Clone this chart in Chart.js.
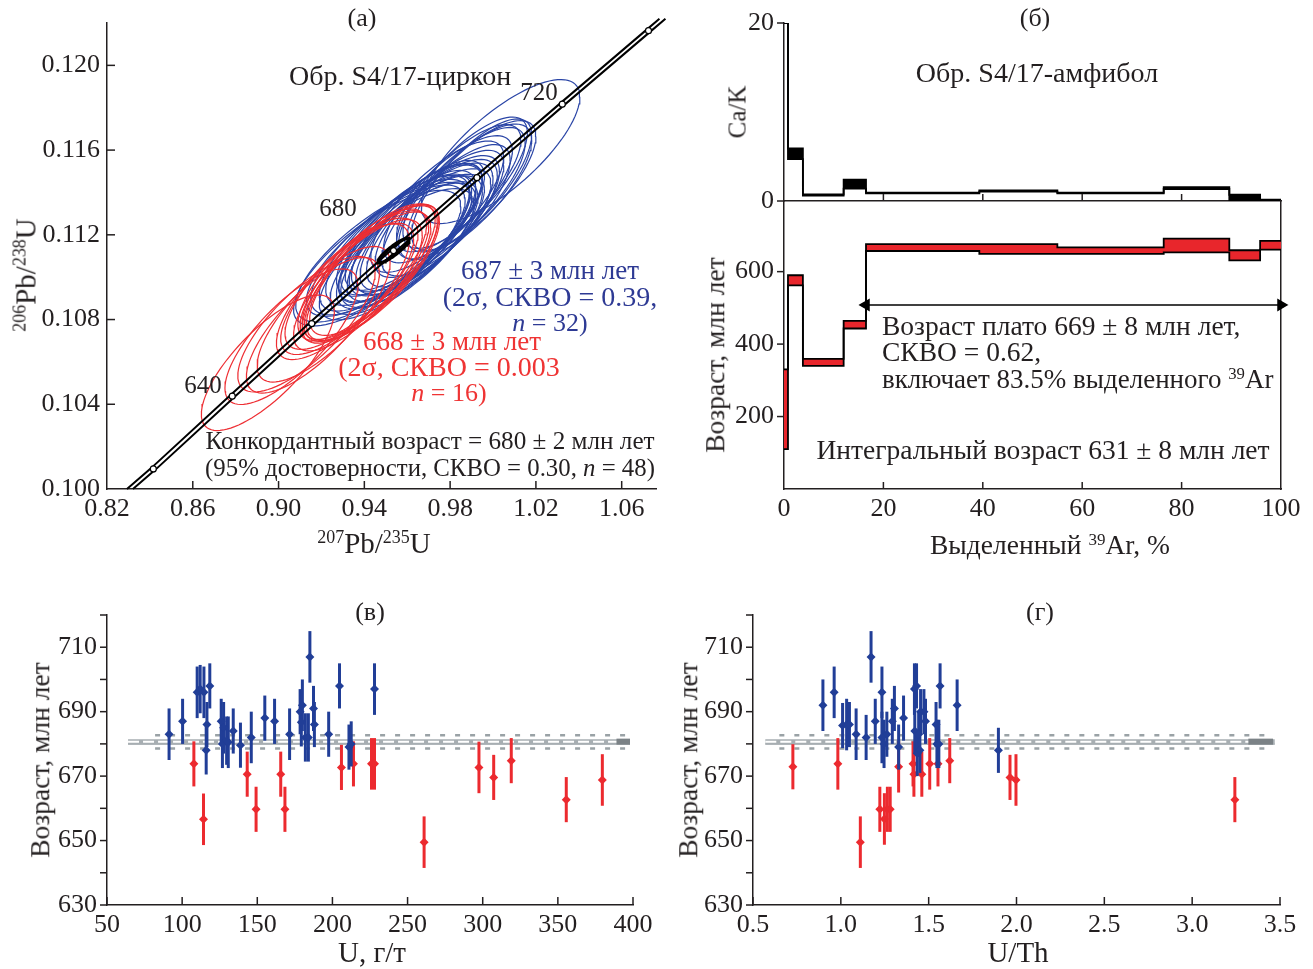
<!DOCTYPE html>
<html>
<head>
<meta charset="utf-8">
<script src="https://cdn.jsdelivr.net/npm/chart.js@4.4.1/dist/chart.umd.min.js"></script>
<style>
body { margin: 0; background: #fff; width: 1313px; height: 969px; position: relative; overflow: hidden; font-family: 'Liberation Serif', serif; }
canvas { position: absolute; }
.t { position: absolute; font-size: 27.5px; line-height: 1; white-space: nowrap; color: #231f20; transform: translate(-50%, -50%); }
.t.l { transform: translate(0, -50%); }
.t.v { transform: translate(-50%, -50%) rotate(-90deg); }
sup { font-size: 0.62em; position: relative; top: -0.55em; vertical-align: baseline; }
.b { color: #2e3a94; }
.r { color: #ef3434; }
</style>
</head>
<body>
<canvas id="cA" width="680" height="539" style="left:0;top:0"></canvas>
<canvas id="cCa" width="613" height="215" style="left:700px;top:0"></canvas>
<canvas id="cAge" width="613" height="375" style="left:700px;top:190px"></canvas>
<canvas id="cB" width="660" height="379" style="left:0;top:590px"></canvas>
<canvas id="cG" width="653" height="379" style="left:660px;top:590px"></canvas>

<!-- (а) -->
<div class="t" style="left:362px;top:18px;font-size:26px">(а)</div>
<div class="t l" style="left:289px;top:76px;font-size:28px">Обр. S4/17-циркон</div>
<div class="t" style="left:539px;top:91px;font-size:25px">720</div>
<div class="t" style="left:338px;top:207px;font-size:25px">680</div>
<div class="t" style="left:203px;top:384px;font-size:25px">640</div>
<div class="t b" style="left:550px;top:270px;font-size:27px">687 ± 3 млн лет</div>
<div class="t b" style="left:550px;top:297px;font-size:28px">(2σ, СКВО = 0.39,</div>
<div class="t b" style="left:550px;top:323px;font-size:26px"><i>n</i> = 32)</div>
<div class="t r" style="left:452px;top:341px;font-size:27px">668 ± 3 млн лет</div>
<div class="t r" style="left:449px;top:367px;font-size:28px">(2σ, СКВО = 0.003</div>
<div class="t r" style="left:449px;top:393px;font-size:26px"><i>n</i> = 16)</div>
<div class="t" style="left:430px;top:441px;font-size:25.2px">Конкордантный возраст = 680 ± 2 млн лет</div>
<div class="t" style="left:430px;top:468px;font-size:24.8px">(95% достоверности, СКВО = 0.30, <i>n</i> = 48)</div>
<div class="t" style="left:374px;top:543px;font-size:29px"><sup>207</sup>Pb/<sup>235</sup>U</div>
<div class="t v" style="left:26px;top:275px;font-size:29px"><sup>206</sup>Pb/<sup>238</sup>U</div>

<!-- (б) -->
<div class="t" style="left:1035px;top:18px;font-size:26px">(б)</div>
<div class="t" style="left:1037px;top:73px;font-size:28px">Обр. S4/17-амфибол</div>
<div class="t v" style="left:737px;top:112px;font-size:25px">Ca/K</div>
<div class="t v" style="left:715px;top:355px">Возраст, млн лет</div>
<div class="t l" style="left:882px;top:326px">Возраст плато 669 ± 8 млн лет,</div>
<div class="t l" style="left:882px;top:352px">СКВО = 0.62,</div>
<div class="t l" style="left:882px;top:379px;font-size:27px">включает 83.5% выделенного <sup>39</sup>Ar</div>
<div class="t" style="left:1043px;top:450px">Интегральный возраст 631 ± 8 млн лет</div>
<div class="t" style="left:1050px;top:545px">Выделенный <sup>39</sup>Ar, %</div>

<!-- (в) -->
<div class="t" style="left:370px;top:612px;font-size:26px">(в)</div>
<div class="t v" style="left:40px;top:760px">Возраст, млн лет</div>
<div class="t" style="left:372px;top:952px;font-size:29px">U, г/т</div>

<!-- (г) -->
<div class="t" style="left:1040px;top:612px;font-size:26px">(г)</div>
<div class="t v" style="left:688px;top:760px">Возраст, млн лет</div>
<div class="t" style="left:1018px;top:952px;font-size:29px">U/Th</div>

<script>
// ---- panel (а): concordia diagram ----
const aTicksX = [0.82, 0.86, 0.90, 0.94, 0.98, 1.02, 1.06];
const aTicksY = [0.100, 0.104, 0.108, 0.112, 0.116, 0.120];
const concX = [0.8307, 0.8416, 0.8784, 0.9155, 0.9536, 0.9925, 1.0323, 1.0725, 1.0790];
const concY = [0.1000, 0.10095, 0.10438, 0.10781, 0.11125, 0.11470, 0.11817, 0.12164, 0.1222];
const markX = [0.8416, 0.8784, 0.9155, 0.9536, 0.9925, 1.0323, 1.0725];   // 620..740 Ma
const markY = [0.10095, 0.10438, 0.10781, 0.11125, 0.11470, 0.11817, 0.12164];

const blueX = [0.9600, 0.9650, 0.9850, 0.9840, 0.9870, 0.9620, 0.9460, 0.9900, 0.9790, 0.9700, 0.9500, 0.9660, 0.9540, 0.9580, 0.9600, 0.9490,
               0.9600, 0.9720, 0.9630, 0.9560, 0.9750, 0.9680, 0.9740, 0.9620, 0.9520, 1.0035, 0.9780, 0.9610, 0.9640, 0.9870, 0.9550, 0.9900];
const blueY = [0.11179, 0.11241, 0.11397, 0.11420, 0.11403, 0.11226, 0.11090, 0.11437, 0.11368, 0.11246, 0.11125, 0.11212, 0.11160, 0.11134, 0.11194, 0.11118,
               0.11151, 0.11264, 0.11238, 0.11177, 0.11299, 0.11229, 0.11333, 0.11168, 0.11142, 0.11593, 0.11316, 0.11220, 0.11186, 0.11446, 0.11108, 0.11429];
const blueSx = [0.032, 0.031, 0.030, 0.029, 0.031, 0.033, 0.039, 0.028, 0.030, 0.032, 0.037, 0.033, 0.035, 0.034, 0.032, 0.041,
                0.033, 0.031, 0.032, 0.034, 0.030, 0.032, 0.031, 0.033, 0.037, 0.037, 0.030, 0.034, 0.032, 0.029, 0.036, 0.030];
const blueSy = [0.0030, 0.0031, 0.0031, 0.0030, 0.0032, 0.0031, 0.0032, 0.0031, 0.0030, 0.0031, 0.0031, 0.0030, 0.0032, 0.0031, 0.0031, 0.0033,
                0.0030, 0.0031, 0.0030, 0.0031, 0.0030, 0.0031, 0.0031, 0.0031, 0.0032, 0.0034, 0.0031, 0.0031, 0.0030, 0.0031, 0.0031, 0.0031];
const redX = [0.9430, 0.9060, 0.9370, 0.9160, 0.9340, 0.9130, 0.9410, 0.9440, 0.9390, 0.9420, 0.8950, 0.9400, 0.9320, 0.9445, 0.9210, 0.9300];
const redY = [0.11017, 0.10719, 0.10962, 0.10773, 0.10969, 0.10778, 0.10998, 0.11021, 0.11012, 0.11026, 0.10596, 0.11004, 0.10945, 0.11035, 0.10825, 0.10931];
const redSx = [0.031, 0.031, 0.030, 0.031, 0.031, 0.032, 0.030, 0.031, 0.030, 0.031, 0.031, 0.030, 0.031, 0.030, 0.031, 0.031];
const redSy = [0.0032, 0.0032, 0.0031, 0.0032, 0.0031, 0.0032, 0.0031, 0.0032, 0.0031, 0.0032, 0.0032, 0.0031, 0.0031, 0.0031, 0.0032, 0.0032];
const ellRho = 0.76;
const blackEll = [0.9536, 0.11125, 0.0072, 0.00058, 0.9];

// ---- panel (б): step heating ----
const stepEdges = [0, 0.8, 3.8, 12, 16.5, 39.3, 55, 76.4, 89.6, 95.8, 100];
const caLo = [20, 4.7, 0.62, 1.4, 0.85, 1.05, 0.85, 1.35, 0.05, 0.02];
const caHi = [20, 5.9, 0.75, 2.4, 0.95, 1.2, 0.95, 1.55, 0.7, 0.15];
const ageLo = [110, 562, 340, 443, 657, 649, 649, 653, 631, 661];
const ageHi = [330, 590, 359, 464, 676, 676, 667, 691, 659, 685];
const plateauX = [16.5, 100];
const plateauAge = 508;
const arTicks = [0, 20, 40, 60, 80, 100];
const ageTicks = [200, 400, 600];
const caTicks = [0, 20];

// ---- panels (в), (г): ages vs U and U/Th ----
const blueU = [91.3, 100.3, 110, 112, 114.5, 116.5, 116, 118.4, 126, 126.8, 127.6, 129.6, 130.7, 134, 138.8, 146,
               155, 161.5, 171.5, 178.5, 179.3, 180, 182, 184, 185, 187.4, 188, 197.5, 204.7, 211, 212.5, 228];
const blueAgeU = [683, 687, 696, 697, 696, 686, 678, 698, 687, 680, 685, 681, 680.5, 684, 679.6, 682,
                  688, 687, 683, 690, 686.7, 692, 682, 682, 707, 691, 686, 683, 698, 679, 680, 697];
const blueErrU = [8, 7, 8, 7.5, 8, 7, 7.5, 7, 7, 7.5, 8, 7.5, 8, 7, 7, 8,
                  7, 7, 8, 7, 7.5, 8, 7.5, 7.5, 8, 7, 7, 7, 7, 7, 7, 8];
const redU = [107.8, 114.2, 143.3, 149.2, 165.6, 168.4, 206, 214, 226, 228, 261, 297.5, 307.3, 319, 355.6, 379.6];
const redAgeU = [673.8, 656.6, 670.6, 659.7, 670.6, 659.7, 672.7, 673.8, 673.8, 673.8, 649.5, 672.7, 669.6, 674.8, 662.7, 668.8];
const redErrU = [7, 8, 7, 7, 7, 7, 7, 7, 8, 8, 8, 8, 7, 7, 7, 8];

const blueUTh = [0.898, 0.962, 1.01, 1.033, 1.049, 1.087, 1.144, 1.172, 1.196, 1.234, 1.234, 1.246, 1.262, 1.293, 1.305, 1.329,
                 1.357, 1.419, 1.421, 1.431, 1.435, 1.443, 1.45, 1.454, 1.473, 1.482, 1.542, 1.547, 1.558, 1.565, 1.662, 1.897];
const blueAgeTh = [692, 696, 685.7, 686, 686, 683, 682, 707, 687, 696, 682, 680, 683, 687, 691, 679,
                   688, 697, 684, 698, 677, 683, 678, 690, 690, 687, 686, 680, 680, 698, 692, 678];
const blueErrTh = [8, 8, 7, 8, 7, 8, 7, 8, 7, 8, 8, 7.5, 7, 7, 7, 7,
                   7, 8, 7, 7, 7, 7, 7, 7, 7, 7, 7, 7.5, 7.5, 7, 8, 7];
const redUTh = [0.727, 0.983, 1.111, 1.222, 1.248, 1.265, 1.281, 1.329, 1.411, 1.416, 1.461, 1.506, 1.553, 1.620, 1.963, 1.997, 3.243];
const redAgeTh = [672.9, 673.8, 649.5, 659.7, 656.7, 659.7, 659.7, 672.9, 673.8, 670.6, 670.6, 673.8, 673.8, 674.8, 669.6, 668.8, 662.7];
const redErrTh = [7, 8, 8, 7, 8, 7, 7, 8, 7, 7, 7, 8, 7, 7, 7, 8, 7];

const refAge = 680.7;           // concordant age band
const bandU = [64, 398];
const bandDashU = [82, 395];
const bandEndU = [389, 398];
const bandUTh = [0.57, 3.47];
const bandDashUTh = [0.65, 3.42];
const bandEndUTh = [3.32, 3.46];
const uTicks = [50, 100, 150, 200, 250, 300, 350, 400];
const uthTicks = [0.5, 1.0, 1.5, 2.0, 2.5, 3.0, 3.5];
const ageTicksBG = [630, 640, 650, 660, 670, 680, 690, 700, 710, 720];

const BLUE = '#213e97', RED = '#ec2a2f', INK = '#231f20';

Chart.defaults.font.family = "'Liberation Serif', serif";
Chart.defaults.font.size = 26;
Chart.defaults.color = INK;
Chart.defaults.animation = false;
Chart.defaults.events = [];
Chart.defaults.plugins.legend.display = false;
Chart.defaults.plugins.tooltip.enabled = false;

// short tick marks, inward or outward
const tickMarks = {
  id: 'tickMarks',
  afterDraw(chart, args, opts) {
    if (!opts.list) return;
    const { ctx, chartArea: a } = chart;
    ctx.save();
    ctx.strokeStyle = INK;
    ctx.lineWidth = 1.5;
    opts.list.forEach(t => {
      const s = chart.scales[t.id];
      s.ticks.forEach(tk => {
        if (t.skip && t.skip.includes(tk.value)) return;
        const p = s.getPixelForValue(tk.value);
        ctx.beginPath();
        if (s.isHorizontal()) {
          const y0 = s.position === 'top' ? a.top : a.bottom;
          const d = (t.dir === 'in') === (s.position !== 'top') ? -t.len : t.len;
          ctx.moveTo(p, y0); ctx.lineTo(p, y0 + d);
        } else {
          const x0 = s.position === 'right' ? a.right : a.left;
          const d = (t.dir === 'in') === (s.position !== 'right') ? t.len : -t.len;
          ctx.moveTo(x0, p); ctx.lineTo(x0 + d, p);
        }
        ctx.stroke();
      });
    });
    ctx.restore();
  }
};

// vertical error bars for datasets that carry errs
const errorBars = {
  id: 'errorBars',
  beforeDatasetDraw(chart, args) {
    const ds = chart.data.datasets[args.index];
    if (!ds.errs) return;
    const { ctx } = chart;
    const y = chart.scales.y;
    ctx.save();
    ctx.strokeStyle = ds.backgroundColor;
    ctx.lineWidth = 3;
    args.meta.data.forEach((pt, j) => {
      const v = ds.data[j].y;
      ctx.beginPath();
      ctx.moveTo(pt.x, y.getPixelForValue(v - ds.errs[j]));
      ctx.lineTo(pt.x, y.getPixelForValue(v + ds.errs[j]));
      ctx.stroke();
    });
    ctx.restore();
  }
};
Chart.register(tickMarks, errorBars);

function axis(min, max, tickVals, size, extra) {
  const vertical = extra && extra.vertical;
  return Object.assign({
    type: 'linear', min, max,
    grid: { display: false, drawTicks: false },
    border: { display: true, color: INK, width: 1.5 },
    ticks: { padding: 6, autoSkip: false, maxRotation: 0 },
    afterBuildTicks: s => { s.ticks = tickVals.map(v => ({ value: v })); },
    afterFit: s => {
      if (vertical) s.width = size; else s.height = size;
      // keep the plot area exactly where the layout padding puts it
      s.paddingTop = s.paddingBottom = s.paddingLeft = s.paddingRight = 0;
    }
  }, extra && extra.opts);
}

function ellipsePts(cx, cy, sx, sy, rho) {
  const pts = [];
  const k = Math.sqrt(1 - rho * rho);
  for (let i = 0; i <= 90; i++) {
    const t = i / 90 * 2 * Math.PI;
    pts.push({ x: cx + sx * Math.cos(t), y: cy + sy * (rho * Math.cos(t) + k * Math.sin(t)) });
  }
  return pts;
}

function ellipses(xs, ys, sxs, sys, color) {
  return xs.map((x, i) => ({
    data: ellipsePts(x, ys[i], sxs[i], sys[i], ellRho),
    showLine: true, pointRadius: 0, borderColor: color, borderWidth: 1.2, fill: false
  }));
}

const zip = (xs, ys) => xs.map((x, i) => ({ x, y: ys[i] }));
const hline = (xr, y) => [{ x: xr[0], y }, { x: xr[1], y }];
const steps = (vals) => stepEdges.map((x, i) => ({ x, y: vals[Math.min(i, vals.length - 1)] }));

// ---- chart (а) ----
new Chart(document.getElementById('cA'), {
  type: 'scatter',
  data: {
    datasets: [
      { data: ellipsePts(...blackEll), showLine: true, pointRadius: 0, borderColor: '#000', borderWidth: 3.5 },
      { data: zip(markX, markY), pointRadius: 3, pointBackgroundColor: '#fff', pointBorderColor: '#000', pointBorderWidth: 1.2, clip: false },
      { data: zip(concX.map(v => v - 0.0014), concY), showLine: true, pointRadius: 0, borderColor: '#000', borderWidth: 2, clip: false },
      { data: zip(concX.map(v => v + 0.0014), concY), showLine: true, pointRadius: 0, borderColor: '#000', borderWidth: 2, clip: false },
      ...ellipses(redX, redY, redSx, redSy, '#ee2e33'),
      ...ellipses(blueX, blueY, blueSx, blueSy, '#2a45a6')
    ]
  },
  options: {
    responsive: false,
    layout: { padding: { top: 23, right: 24, left: 0, bottom: 0 } },
    scales: {
      x: axis(0.82, 1.076, aTicksX, 50, { opts: { ticks: { padding: 5, autoSkip: false, maxRotation: 0, callback: v => v.toFixed(2) } } }),
      y: axis(0.100, 0.122, aTicksY, 107, { vertical: true, opts: { ticks: { padding: 7, autoSkip: false, callback: v => v.toFixed(3) } } })
    },
    plugins: { tickMarks: { list: [{ id: 'x', dir: 'in', len: 8, skip: [0.82] }, { id: 'y', dir: 'in', len: 8, skip: [0.1] }] } }
  }
});

// ---- chart (б) top: Ca/K ----
new Chart(document.getElementById('cCa'), {
  type: 'scatter',
  data: {
    datasets: [
      { data: steps(caHi), showLine: true, stepped: true, pointRadius: 0, borderColor: '#000', borderWidth: 1.8, fill: '+1', backgroundColor: '#000' },
      { data: steps(caLo), showLine: true, stepped: true, pointRadius: 0, borderColor: '#000', borderWidth: 1.8 }
    ]
  },
  options: {
    responsive: false,
    layout: { padding: { top: 23, right: 32, left: 0, bottom: 14 } },
    scales: {
      x: axis(0, 100, [20, 40, 60, 80], 0, { opts: { ticks: { display: false } } }),
      y: axis(0, 20, caTicks, 84, { vertical: true, opts: { ticks: { padding: 10, autoSkip: false } } })
    },
    plugins: {
      filler: { drawTime: 'beforeDatasetsDraw' },
      tickMarks: { list: [{ id: 'x', dir: 'in', len: 7 }, { id: 'y', dir: 'out', len: 7 }] }
    }
  }
});

// ---- chart (б) bottom: age spectrum ----
new Chart(document.getElementById('cAge'), {
  type: 'scatter',
  data: {
    datasets: [
      { data: plateauX.map(x => ({ x, y: plateauAge })), showLine: true, borderColor: '#000', borderWidth: 1.5,
        pointStyle: 'triangle', pointRadius: 6, pointRotation: [-90, 90], pointBackgroundColor: '#000', pointBorderColor: '#000', clip: false },
      { data: steps(ageHi), showLine: true, stepped: true, pointRadius: 0, borderColor: '#000', borderWidth: 1.8, fill: '+1', backgroundColor: '#e8262c' },
      { data: steps(ageLo), showLine: true, stepped: true, pointRadius: 0, borderColor: '#000', borderWidth: 1.8 }
    ]
  },
  options: {
    responsive: false,
    layout: { padding: { top: 11, right: 32, left: 0, bottom: 0 } },
    scales: {
      x: axis(0, 100, arTicks, 76, { opts: { ticks: { padding: 5, autoSkip: false, maxRotation: 0 } } }),
      y: axis(0, 795, ageTicks, 84, { vertical: true, opts: { ticks: { padding: 10, autoSkip: false } } }),
      y2: axis(0, 1, [], 0, { vertical: true, opts: { position: 'right', ticks: { display: false } } })
    },
    plugins: {
      filler: { drawTime: 'beforeDatasetsDraw' },
      tickMarks: { list: [{ id: 'x', dir: 'in', len: 7, skip: [0, 100] }, { id: 'y', dir: 'out', len: 7 }] }
    }
  }
});

// ---- charts (в), (г) ----
function bandSets(xr, dashr, endr) {
  return [
    { data: hline(endr, refAge), showLine: true, pointRadius: 0, borderColor: '#7b8286', borderWidth: 6 },
    { data: hline(xr, refAge), showLine: true, pointRadius: 0, borderColor: '#fff', borderWidth: 2, borderDash: [11, 4] },
    { data: hline(xr, refAge), showLine: true, pointRadius: 0, borderColor: '#a7aeb2', borderWidth: 5 },
    { data: hline(dashr, refAge + 2), showLine: true, pointRadius: 0, borderColor: '#9aa2a6', borderWidth: 2.5, borderDash: [5, 10] },
    { data: hline(dashr, refAge - 2.1), showLine: true, pointRadius: 0, borderColor: '#9aa2a6', borderWidth: 2.5, borderDash: [5, 10] },
    { data: hline(xr, refAge - 0.8), showLine: true, pointRadius: 0, borderColor: '#9aa2a6', borderWidth: 1.2 }
  ];
}

function agePlot(id, xMin, xMax, xTicks, yWidth, padRight, bx, by, be, rx, ry, re, band) {
  new Chart(document.getElementById(id), {
    type: 'scatter',
    data: {
      datasets: [
        { data: zip(bx, by), errs: be, pointStyle: 'rectRot', pointRadius: 4.5, backgroundColor: BLUE, borderWidth: 0 },
        { data: zip(rx, ry), errs: re, pointStyle: 'rectRot', pointRadius: 4.5, backgroundColor: RED, borderWidth: 0 },
        ...band
      ]
    },
    options: {
      responsive: false,
      layout: { padding: { top: 25, right: padRight, left: 0, bottom: 0 } },
      scales: {
        x: axis(xMin, xMax, xTicks, 64, { opts: { ticks: { padding: 5, autoSkip: false, maxRotation: 0,
          callback: v => xMax < 10 ? v.toFixed(1) : v } } }),
        y: axis(630, 720, ageTicksBG, yWidth, { vertical: true, opts: { ticks: { padding: 10, autoSkip: false,
          callback: v => (v - 630) % 20 === 0 ? v : '' } } })
      },
      plugins: { tickMarks: { list: [{ id: 'x', dir: 'in', len: 8 }, { id: 'y', dir: 'out', len: 7 }] } }
    }
  });
}

agePlot('cB', 50, 400, uTicks, 107, 27, blueU, blueAgeU, blueErrU, redU, redAgeU, redErrU, bandSets(bandU, bandDashU, bandEndU));
agePlot('cG', 0.5, 3.5, uthTicks, 93, 33, blueUTh, blueAgeTh, blueErrTh, redUTh, redAgeTh, redErrTh, bandSets(bandUTh, bandDashUTh, bandEndUTh));
</script>
</body>
</html>
